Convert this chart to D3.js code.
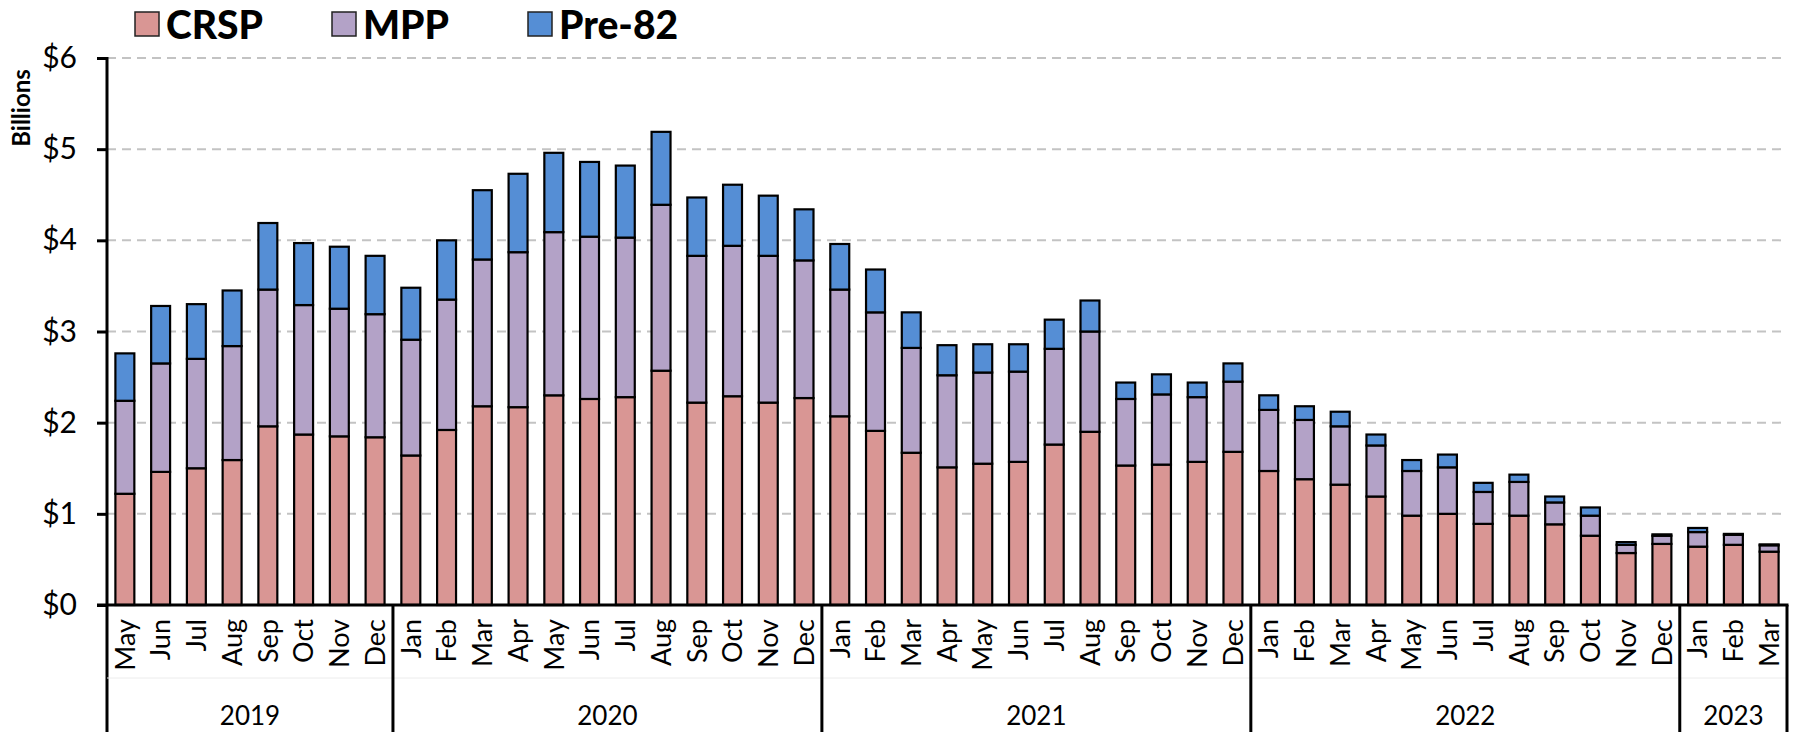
<!DOCTYPE html>
<html>
<head>
<meta charset="utf-8">
<script src="https://cdn.jsdelivr.net/npm/d3@7"></script>
<style>
  html, body { margin: 0; padding: 0; background: #fff; }
  svg { display: block; font-family: Lato, "Open Sans", sans-serif; }
</style>
</head>
<body>
<svg id="chart" width="1794" height="732"></svg>
<script>
// Monthly categories, May 2019 through March 2023
const months = [
  "May","Jun","Jul","Aug","Sep","Oct","Nov","Dec",
  "Jan","Feb","Mar","Apr","May","Jun","Jul","Aug","Sep","Oct","Nov","Dec",
  "Jan","Feb","Mar","Apr","May","Jun","Jul","Aug","Sep","Oct","Nov","Dec",
  "Jan","Feb","Mar","Apr","May","Jun","Jul","Aug","Sep","Oct","Nov","Dec",
  "Jan","Feb","Mar"
];
const years = ["2019", "2020", "2021", "2022", "2023"];
const yearCounts = [8, 12, 12, 12, 3];

// Series values, $ billions
const crsp = [
  1.22, 1.46, 1.50, 1.59, 1.96, 1.87, 1.85, 1.84,
  1.64, 1.92, 2.18, 2.17, 2.30, 2.26, 2.28, 2.57, 2.22, 2.29, 2.22, 2.27,
  2.07, 1.91, 1.67, 1.51, 1.55, 1.57, 1.76, 1.90, 1.53, 1.54, 1.57, 1.68,
  1.47, 1.38, 1.32, 1.19, 0.98, 1.00, 0.89, 0.98, 0.885, 0.76, 0.57, 0.67,
  0.64, 0.66, 0.585
];
const mpp = [
  1.02, 1.19, 1.20, 1.25, 1.50, 1.42, 1.40, 1.35,
  1.27, 1.43, 1.61, 1.70, 1.79, 1.78, 1.75, 1.82, 1.61, 1.65, 1.61, 1.51,
  1.39, 1.30, 1.15, 1.01, 1.00, 0.99, 1.05, 1.10, 0.73, 0.77, 0.71, 0.77,
  0.67, 0.65, 0.64, 0.56, 0.49, 0.51, 0.35, 0.37, 0.24, 0.22, 0.09, 0.09,
  0.16, 0.11, 0.07
];
const pre82 = [
  0.52, 0.63, 0.60, 0.61, 0.73, 0.68, 0.68, 0.64,
  0.57, 0.65, 0.76, 0.86, 0.87, 0.82, 0.79, 0.80, 0.64, 0.67, 0.66, 0.56,
  0.50, 0.47, 0.39, 0.33, 0.31, 0.30, 0.32, 0.34, 0.18, 0.22, 0.16, 0.20,
  0.16, 0.15, 0.16, 0.12, 0.12, 0.14, 0.10, 0.08, 0.065, 0.09, 0.03, 0.015,
  0.045, 0.01, 0.01
];
const seriesNames = ["CRSP", "MPP", "Pre-82"];
const seriesColors = ["#d99694", "#b3a2c7", "#558ed5"];
const yTicks = [0, 1, 2, 3, 4, 5, 6];

const rows = months.map((m, i) => ({ i, CRSP: crsp[i], MPP: mpp[i], "Pre-82": pre82[i] }));
const stacked = d3.stack().keys(seriesNames)(rows);

const svg = d3.select("#chart");
const plotLeft = 107, plotRight = 1787, plotTop = 58, plotBase = 605, plotBottom = 732;

const x = d3.scaleBand()
  .domain(d3.range(months.length))
  .range([plotLeft, plotRight])
  .paddingInner(0.47)
  .paddingOuter(0.235);

const y = d3.scaleLinear().domain([0, 6]).range([plotBase, plotTop]);

// Dashed horizontal gridlines
svg.append("g")
  .selectAll("line")
  .data(yTicks.filter(d => d > 0))
  .join("line")
  .attr("x1", plotLeft).attr("x2", plotRight)
  .attr("y1", d => y(d)).attr("y2", d => y(d))
  .attr("stroke", "#c3c3c3")
  .attr("stroke-width", 2)
  .attr("stroke-dasharray", "9,6");

// Stacked bars
svg.append("g")
  .selectAll("g")
  .data(stacked)
  .join("g")
  .attr("fill", (d, k) => seriesColors[k])
  .selectAll("rect")
  .data(d => d)
  .join("rect")
  .attr("x", d => x(d.data.i))
  .attr("width", x.bandwidth())
  .attr("y", d => y(d[1]))
  .attr("height", d => y(d[0]) - y(d[1]))
  .attr("stroke", "#000")
  .attr("stroke-width", 2.2);

// Y axis
const yAxis = svg.append("g")
  .attr("transform", `translate(${plotLeft},0)`)
  .call(d3.axisLeft(y).tickValues(yTicks).tickFormat(d => "$" + d).tickSize(10).tickPadding(20));
yAxis.select(".domain").remove();
yAxis.selectAll(".tick line").attr("stroke", "#000").attr("stroke-width", 3);
yAxis.selectAll(".tick text")
  .attr("font-family", "Lato, sans-serif")
  .attr("font-size", 30)
  .attr("fill", "#000");
svg.append("line")
  .attr("x1", plotLeft).attr("x2", plotLeft)
  .attr("y1", plotTop - 1).attr("y2", plotBottom)
  .attr("stroke", "#000").attr("stroke-width", 3);

// Month labels along the category axis
const xAxis = svg.append("g")
  .attr("transform", `translate(0,${plotBase})`)
  .call(d3.axisBottom(x).tickFormat(i => months[i]).tickSize(0));
xAxis.select(".domain").remove();
xAxis.selectAll(".tick text")
  .attr("font-family", "Lato, sans-serif")
  .attr("font-size", 27)
  .attr("fill", "#000")
  .attr("text-anchor", "end")
  .attr("transform", "rotate(-90)")
  .attr("x", -14)
  .attr("y", 0)
  .attr("dy", "0.36em");

// Faint divider between month and year rows
svg.append("line")
  .attr("x1", plotLeft).attr("x2", plotRight)
  .attr("y1", 678).attr("y2", 678)
  .attr("stroke", "#ececec").attr("stroke-width", 1);

// Year groups: separators and centred labels
let start = 0;
const groups = years.map((yr, k) => {
  const g = { label: yr, from: start, to: start + yearCounts[k] };
  start += yearCounts[k];
  return g;
});
const step = x.step();
const edge = i => plotLeft + i * step;
svg.append("g")
  .selectAll("line")
  .data(groups.slice(1).map(g => g.from).concat([months.length]))
  .join("line")
  .attr("x1", d => edge(d)).attr("x2", d => edge(d))
  .attr("y1", plotBase).attr("y2", plotBottom)
  .attr("stroke", "#000").attr("stroke-width", 3);
svg.append("g")
  .selectAll("text")
  .data(groups)
  .join("text")
  .attr("x", g => (edge(g.from) + edge(g.to)) / 2)
  .attr("y", 725)
  .attr("text-anchor", "middle")
  .attr("font-size", 26)
  .attr("fill", "#000")
  .text(g => g.label);

// X axis baseline
svg.append("line")
  .attr("x1", plotLeft - 10).attr("x2", plotRight + 1.5)
  .attr("y1", plotBase).attr("y2", plotBase)
  .attr("stroke", "#000").attr("stroke-width", 3);

// Axis title
svg.append("text")
  .attr("transform", "translate(30,108) rotate(-90)")
  .attr("text-anchor", "middle")
  .attr("font-size", 24)
  .attr("font-weight", 700)
  .attr("fill", "#000")
  .text("Billions");

// Legend
const legendX = [135, 332, 528];
const legend = svg.append("g")
  .selectAll("g")
  .data(seriesNames)
  .join("g")
  .attr("transform", (d, k) => `translate(${legendX[k]},0)`);
legend.append("rect")
  .attr("x", 0).attr("y", 12)
  .attr("width", 24).attr("height", 24)
  .attr("fill", (d, k) => seriesColors[k])
  .attr("stroke", "#222").attr("stroke-width", 1.5);
legend.append("text")
  .attr("x", 31).attr("y", 38.5)
  .attr("font-size", 39)
  .attr("font-weight", 900)
  .attr("fill", "#000")
  .text(d => d);
</script>
</body>
</html>
